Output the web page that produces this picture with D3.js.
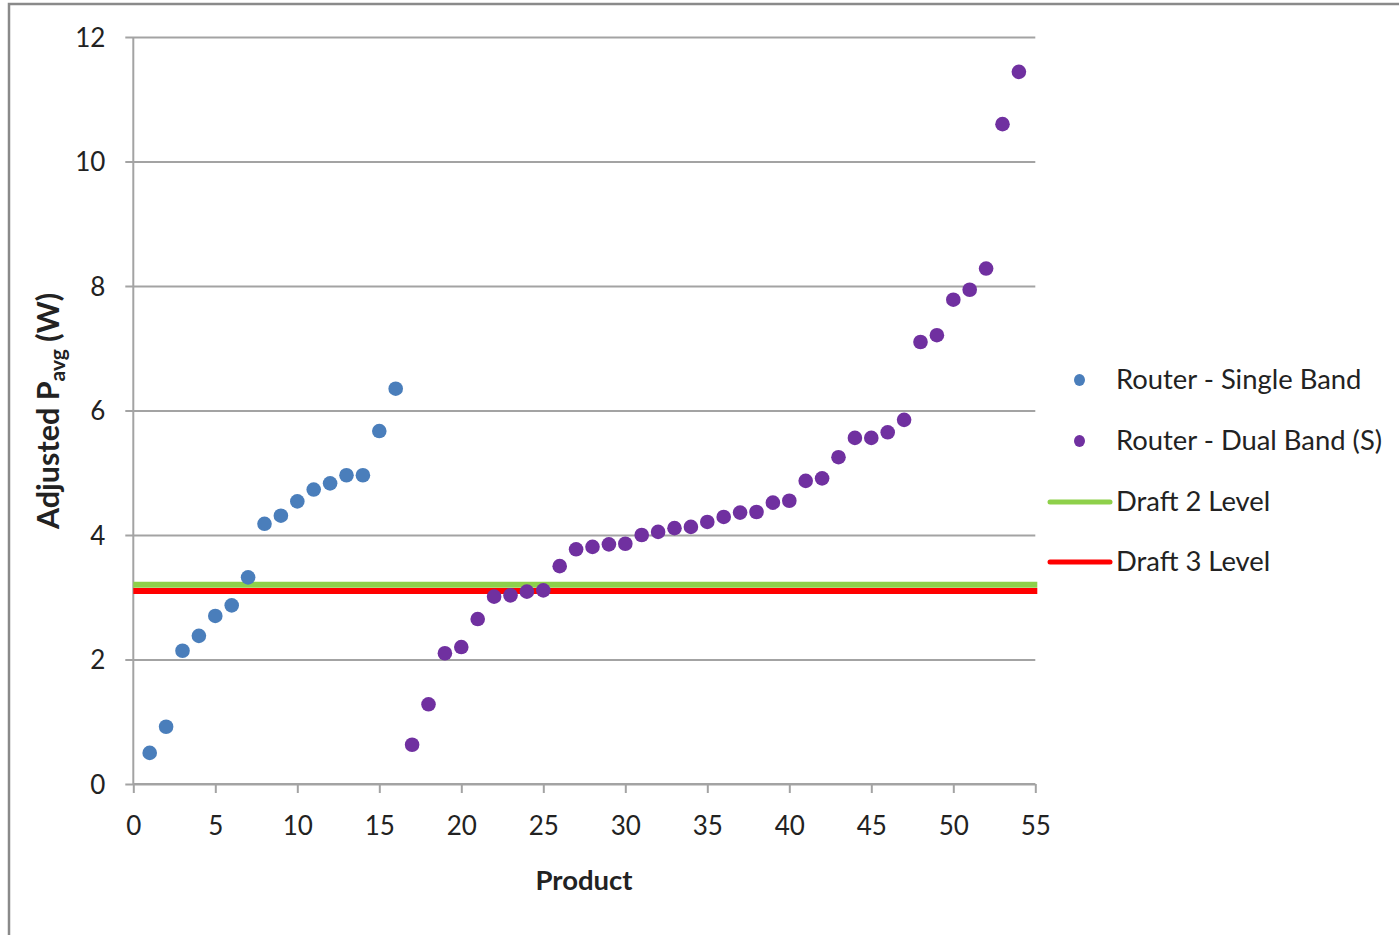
<!DOCTYPE html>
<html>
<head>
<meta charset="utf-8">
<script src="https://cdn.jsdelivr.net/npm/d3@7"></script>
<style>
  html, body { margin: 0; padding: 0; background: #fff; }
  svg { display: block; }
  text { font-family: Lato, "Liberation Sans", sans-serif; fill: #222; }
</style>
</head>
<body>
<svg id="chart" width="1399" height="935"></svg>
<script>
// Products 1–16: single-band routers
const singleProducts = [1,2,3,4,5,6,7,8,9,10,11,12,13,14,15,16];
const singleValues   = [0.50,0.92,2.14,2.38,2.70,2.87,3.32,4.18,4.31,4.54,4.73,4.83,4.96,4.96,5.67,6.35];

// Products 17–54: dual-band (simultaneous) routers
const dualProducts = [17,18,19,20,21,22,23,24,25,26,27,28,29,30,31,32,33,34,35,36,37,38,39,40,41,42,43,44,45,46,47,48,49,50,51,52,53,54];
const dualValues   = [0.63,1.28,2.10,2.20,2.65,3.01,3.03,3.09,3.11,3.50,3.77,3.81,3.85,3.86,4.00,4.05,4.11,4.13,4.21,4.29,4.36,4.37,4.52,4.55,4.87,4.91,5.25,5.56,5.56,5.65,5.85,7.10,7.21,7.78,7.94,8.28,10.60,11.44];

// Proposed limit levels (W)
const draft2Level = 3.2;
const draft3Level = 3.1;

const xTicks = [0,5,10,15,20,25,30,35,40,45,50,55];
const yTicks = [0,2,4,6,8,10,12];

const seriesNames = ["Router - Single Band", "Router - Dual Band (S)", "Draft 2 Level", "Draft 3 Level"];
const colors = { single: "#4A7EBB", dual: "#7030A0", draft2: "#8ED04A", draft3: "#FF0000" };

const svg = d3.select("#chart");

// Outer chart frame
svg.append("rect")
  .attr("x", 9).attr("y", 4).attr("width", 1420).attr("height", 960)
  .attr("fill", "none").attr("stroke", "#8a8a8a").attr("stroke-width", 2.5);

const plot = { left: 133.3, right: 1035.3, top: 37, bottom: 784 };
const x = d3.scaleLinear().domain([0, 55]).range([plot.left, plot.right]);
const y = d3.scaleLinear().domain([0, 12]).range([plot.bottom, plot.top]);

const gridColor = "#a3a3a3";

// Horizontal gridlines + y axis ticks
const yAxis = d3.axisLeft(y).tickValues(yTicks).tickSize(-(plot.right - plot.left)).tickPadding(0).tickFormat(d3.format("d"));
const gy = svg.append("g").attr("transform", `translate(${plot.left},0)`).call(yAxis);
gy.select(".domain").remove();
gy.selectAll(".tick line").attr("stroke", gridColor).attr("stroke-width", 2).attr("x1", -8);
gy.selectAll(".tick text").attr("x", -28).attr("dy", "0.35em")
  .style("font-size", "26px").style("font-family", "Lato, 'Liberation Sans', sans-serif").attr("fill", "#222");

// Vertical axis line
svg.append("line")
  .attr("x1", plot.left).attr("x2", plot.left).attr("y1", plot.top).attr("y2", plot.bottom)
  .attr("stroke", gridColor).attr("stroke-width", 2);

// X axis
const xAxis = d3.axisBottom(x).tickValues(xTicks).tickSize(9).tickPadding(0).tickFormat(d3.format("d"));
const gx = svg.append("g").attr("transform", `translate(0,${plot.bottom})`).call(xAxis);
gx.select(".domain").attr("stroke", gridColor).attr("stroke-width", 2).attr("d", `M${plot.left},0H${plot.right}`);
gx.selectAll(".tick line").attr("stroke", gridColor).attr("stroke-width", 2);
gx.selectAll(".tick text").attr("y", 42).attr("dy", "0.35em")
  .style("font-size", "26px").style("font-family", "Lato, 'Liberation Sans', sans-serif").attr("fill", "#222");

// Level lines
const levels = [
  { value: draft2Level, color: colors.draft2 },
  { value: draft3Level, color: colors.draft3 }
];
svg.append("g").selectAll("line").data(levels).join("line")
  .attr("x1", x(0)).attr("x2", x(55) + 2)
  .attr("y1", d => y(d.value)).attr("y2", d => y(d.value))
  .attr("stroke", d => d.color).attr("stroke-width", 6);

// Scatter points
const singleData = singleProducts.map((p, i) => ({ p, v: singleValues[i] }));
const dualData = dualProducts.map((p, i) => ({ p, v: dualValues[i] }));

svg.append("g").selectAll("circle").data(singleData).join("circle")
  .attr("cx", d => x(d.p)).attr("cy", d => y(d.v)).attr("r", 7.3)
  .attr("fill", colors.single);

svg.append("g").selectAll("circle").data(dualData).join("circle")
  .attr("cx", d => x(d.p)).attr("cy", d => y(d.v)).attr("r", 7.3)
  .attr("fill", colors.dual);

// Axis titles
svg.append("text")
  .attr("x", 584).attr("y", 880).attr("dy", "0.35em")
  .attr("text-anchor", "middle")
  .style("font-size", "27.5px").style("font-weight", "bold")
  .text("Product");

const yTitle = svg.append("text")
  .attr("transform", "translate(59,411) rotate(-90)")
  .attr("text-anchor", "middle")
  .style("font-size", "30.5px").style("font-weight", "bold");
yTitle.append("tspan").text("Adjusted P");
yTitle.append("tspan").attr("dy", 6).style("font-size", "21px").text("avg");
yTitle.append("tspan").attr("dy", -6).text(" (W)");

// Legend
const legend = svg.append("g");
const legendRows = [
  { name: seriesNames[0], type: "dot", color: colors.single, y: 380 },
  { name: seriesNames[1], type: "dot", color: colors.dual, y: 441 },
  { name: seriesNames[2], type: "line", color: colors.draft2, y: 502 },
  { name: seriesNames[3], type: "line", color: colors.draft3, y: 562 }
];
legendRows.forEach(r => {
  if (r.type === "dot") {
    legend.append("ellipse").attr("cx", 1079.5).attr("cy", r.y).attr("rx", 5.5).attr("ry", 6).attr("fill", r.color);
  } else {
    legend.append("line").attr("x1", 1050).attr("x2", 1110).attr("y1", r.y).attr("y2", r.y)
      .attr("stroke", r.color).attr("stroke-width", 5).attr("stroke-linecap", "round");
  }
  legend.append("text").attr("x", 1116).attr("y", r.y).attr("dy", "0.32em")
    .style("font-size", "27.4px").text(r.name);
});
</script>
</body>
</html>
